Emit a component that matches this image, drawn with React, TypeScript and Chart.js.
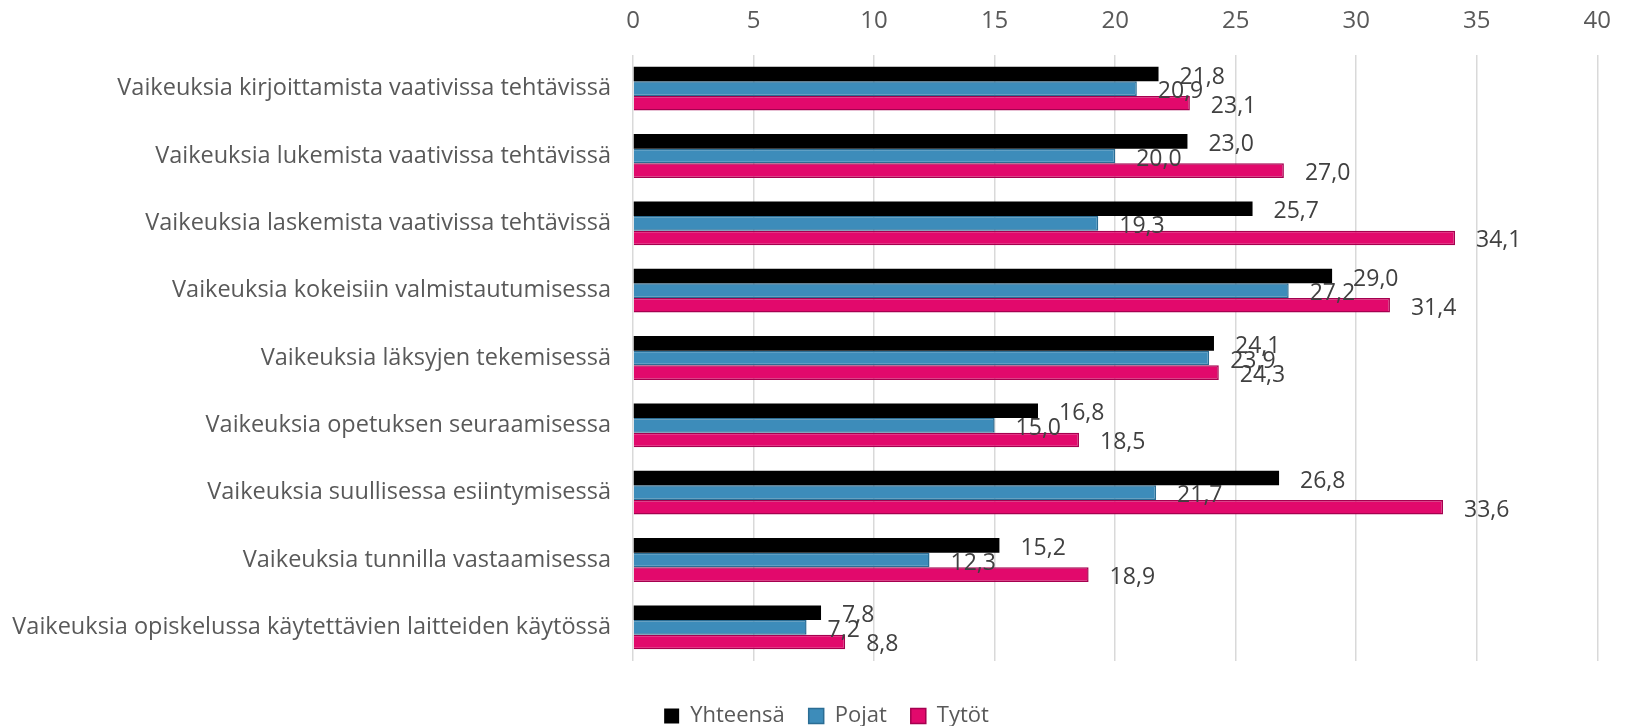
import React, { useEffect, useRef } from 'react';
import { Chart, registerables } from 'chart.js';

Chart.register(...registerables);

const categories = [
  'Vaikeuksia kirjoittamista vaativissa tehtävissä',
  'Vaikeuksia lukemista vaativissa tehtävissä',
  'Vaikeuksia laskemista vaativissa tehtävissä',
  'Vaikeuksia kokeisiin valmistautumisessa',
  'Vaikeuksia läksyjen tekemisessä',
  'Vaikeuksia opetuksen seuraamisessa',
  'Vaikeuksia suullisessa esiintymisessä',
  'Vaikeuksia tunnilla vastaamisessa',
  'Vaikeuksia opiskelussa käytettävien laitteiden käytössä',
];

const yhteensa = [21.8, 23.0, 25.7, 29.0, 24.1, 16.8, 26.8, 15.2, 7.8];
const pojat = [20.9, 20.0, 19.3, 27.2, 23.9, 15.0, 21.7, 12.3, 7.2];
const tytot = [23.1, 27.0, 34.1, 31.4, 24.3, 18.5, 33.6, 18.9, 8.8];

const seriesNames = ['Yhteensä', 'Pojat', 'Tytöt'];

const axisMin = 0;
const axisMax = 40;
const axisStep = 5;

const FONT = "'Open Sans'";

const valueLabels = {
  id: 'valueLabels',
  afterDatasetsDraw(chart: any) {
    const ctx = chart.ctx;
    ctx.save();
    ctx.font = `23px ${FONT}`;
    ctx.fillStyle = '#404040';
    ctx.textAlign = 'left';
    ctx.textBaseline = 'middle';
    chart.data.datasets.forEach((ds: any, di: number) => {
      const meta = chart.getDatasetMeta(di);
      meta.data.forEach((el: any, i: number) => {
        const v = ds.data[i] as number;
        ctx.fillText(v.toFixed(1).replace('.', ','), el.x + 21, el.y + 3);
      });
    });
    ctx.restore();
  },
};

export default function App() {
  const ref = useRef<HTMLCanvasElement | null>(null);

  useEffect(() => {
    if (!ref.current) return;
    const chart = new Chart(ref.current, {
      type: 'bar',
      data: {
        labels: categories,
        datasets: [
          {
            label: seriesNames[0],
            data: yhteensa,
            backgroundColor: '#000000',
            borderColor: '#000000',
            borderWidth: 0,
          },
          {
            label: seriesNames[1],
            data: pojat,
            backgroundColor: '#3D8CBA',
            borderColor: '#2B6D94',
            borderWidth: 1.5,
          },
          {
            label: seriesNames[2],
            data: tytot,
            backgroundColor: '#E2096C',
            borderColor: '#A5004F',
            borderWidth: 1.5,
          },
        ],
      },
      plugins: [valueLabels],
      options: {
        indexAxis: 'y',
        animation: false,
        responsive: true,
        maintainAspectRatio: false,
        datasets: {
          bar: {
            categoryPercentage: 0.65,
            barPercentage: 1,
          },
        },
        layout: { padding: { left: 40, right: 17, top: 0, bottom: 0 } },
        scales: {
          x: {
            position: 'top',
            min: axisMin,
            max: axisMax,
            ticks: {
              stepSize: axisStep,
              color: '#595959',
              font: { family: FONT, size: 24 },
              padding: 19,
            },
            grid: { color: '#d9d9d9', lineWidth: 1.5, drawTicks: false },
            border: { display: false },
            afterFit: (s: any) => {
              s.height = 55;
            },
          },
          y: {
            ticks: {
              color: '#595959',
              font: { family: FONT, size: 23.5 },
              padding: 22,
            },
            grid: { display: false, drawTicks: false },
            border: { display: false },
            afterFit: (s: any) => {
              s.width = 593;
              // let long category labels extend past the axis box instead of being clipped
              s._computeLabelArea = () => undefined;
            },
          },
        },
        plugins: {
          legend: {
            position: 'bottom',
            maxHeight: 65,
            title: { display: true, text: '', font: { size: 20, lineHeight: 1 }, padding: 0 },
            labels: {
              boxWidth: 15,
              boxHeight: 15,
              padding: 24,
              color: '#595959',
              font: { family: FONT, size: 22 },
            },
          },
          tooltip: { enabled: false },
        },
      },
    } as any);
    return () => chart.destroy();
  }, []);

  return (
    <div style={{ position: 'fixed', left: 0, top: 0, width: 1630, height: 726, background: '#fff' }}>
      <canvas ref={ref} />
    </div>
  );
}
